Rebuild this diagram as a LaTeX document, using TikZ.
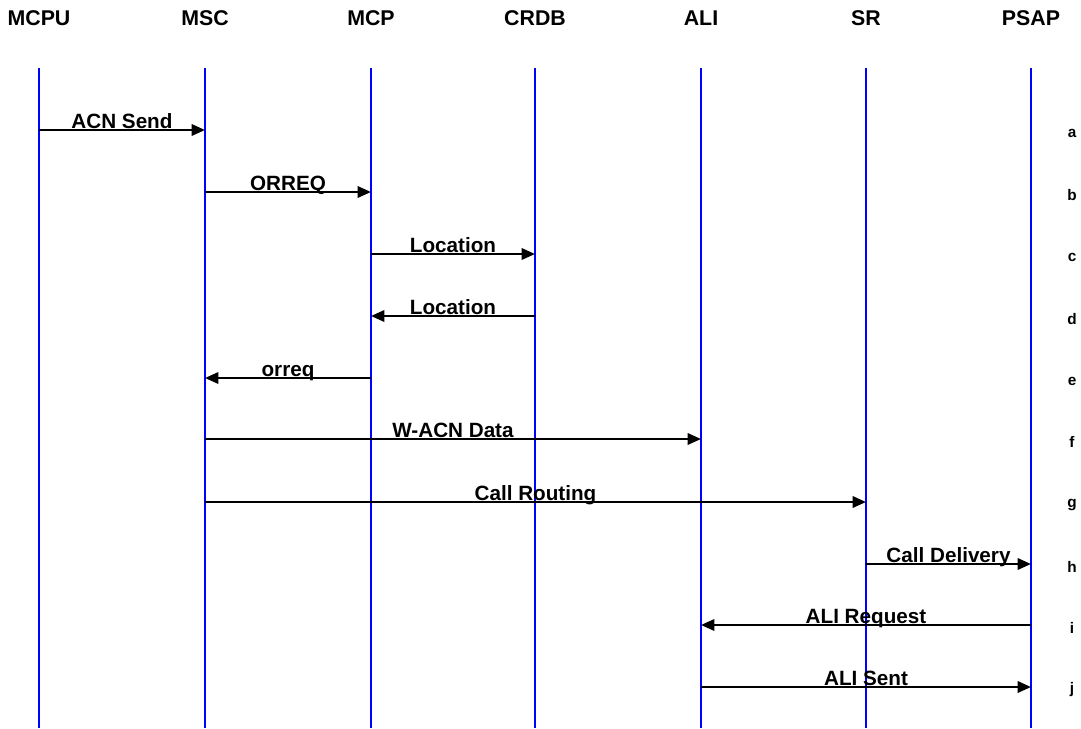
\documentclass[tikz,border=0pt]{standalone}
\usepackage{fontspec}
\setmainfont{Liberation Sans}
\usetikzlibrary{arrows.meta}
\tikzset{
  head/.style={font=\fontsize{16}{19}\selectfont\bfseries, inner sep=0pt},
  life/.style={blue, line width=1.6pt},
  msg/.style={black, line width=1.7pt, -{Triangle[length=10pt,width=8.5pt]}},
  msglabel/.style={font=\fontsize{15.5}{18}\selectfont\bfseries, inner sep=0pt, anchor=base, yshift=1pt},
  rowlabel/.style={font=\fontsize{11.5}{13}\selectfont\bfseries, inner sep=0pt}
}
\begin{document}
\begin{tikzpicture}[x=0.75pt,y=-0.75pt]
  \useasboundingbox (0,0) rectangle (1081,728);
  \foreach \n/\x in {MCPU/39,MSC/205,MCP/371,CRDB/535,ALI/701,SR/866,PSAP/1031} {
    \node[head] (\n) at (\x,18) {\n};
    \coordinate (\n top) at (\x,68);
    \coordinate (\n bot) at (\x,728);
    \draw[life] (\n top)--(\n bot);
  }
  \foreach \r/\y/\f/\t/\lab in {a/130/MCPU/MSC/ACN Send,b/192/MSC/MCP/ORREQ,c/254/MCP/CRDB/Location,
      d/316/CRDB/MCP/Location,e/378/MCP/MSC/orreq,f/439/MSC/ALI/W-ACN Data,g/502/MSC/SR/Call Routing,
      h/564/SR/PSAP/Call Delivery,i/625/PSAP/ALI/ALI Request,j/687/ALI/PSAP/ALI Sent} {
    \coordinate (row\r) at (0,\y);
    \node[rowlabel] (lab\r) at (1072,\y+3) {\r};
    \draw[msg] (\f top |- row\r)--(\t top |- row\r) node[midway,msglabel] {\lab};
  }
\end{tikzpicture}
\end{document}
